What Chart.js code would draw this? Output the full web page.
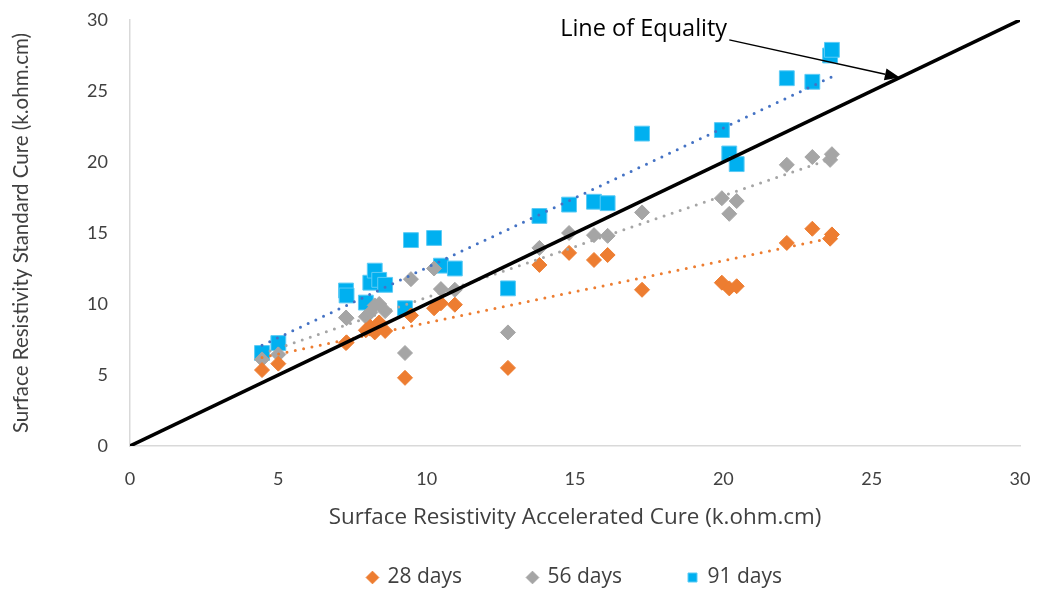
<!DOCTYPE html>
<html>
<head>
<meta charset="utf-8">
<script src="https://cdn.jsdelivr.net/npm/chart.js@4.4.1/dist/chart.umd.min.js"></script>
<style>
  html, body { margin: 0; padding: 0; background: #fff; }
</style>
</head>
<body>
<canvas id="chart" width="1038" height="592"></canvas>
<script>
// accelerated cure readings, same specimens for every age
const accelCure = [4.45, 5.0, 7.28, 7.3, 7.95, 8.1, 8.25, 8.4, 8.6, 9.27, 9.47, 10.25, 10.48, 10.95,
  12.74, 13.8, 14.8, 15.64, 16.1, 17.26, 19.95, 20.2, 20.45, 22.14, 23.0, 23.6, 23.66];

// standard cure readings
const std28 = [5.35, 5.8, 7.25, 7.3, 8.15, 8.4, 8.0, 8.7, 8.1, 4.8, 9.2, 9.7, 10.05, 9.95,
  5.5, 12.75, 13.6, 13.1, 13.45, 11.0, 11.5, 11.1, 11.25, 14.3, 15.3, 14.6, 14.9];
const std56 = [6.1, 6.45, 9.05, 9.0, 9.1, 9.4, 9.9, 10.0, 9.5, 6.55, 11.75, 12.5, 11.05, 11.0,
  8.0, 13.95, 15.0, 14.85, 14.8, 16.45, 17.45, 16.35, 17.25, 19.8, 20.35, 20.15, 20.55];
const std91 = [6.55, 7.25, 10.95, 10.6, 10.1, 11.5, 12.35, 11.7, 11.35, 9.7, 14.5, 14.65, 12.7, 12.5,
  11.1, 16.2, 17.0, 17.2, 17.1, 22.0, 22.25, 20.6, 19.85, 25.9, 25.65, 27.5, 27.9];

const seriesNames = ["28 days", "56 days", "91 days"];
const axisMin = 0, axisMax = 30, axisStep = 5;

// annotation anchors (data units)
const noteText = "Line of Equality";
const notePos = { x: 14.5, y: 29.35 };
const arrowFrom = { x: 20.2, y: 28.6 };
const arrowTo = { x: 25.95, y: 25.95 };

const FONT = "'Open Sans'";
const TICK_FONT = "Lato";
const TEXT = "#404040";

function pts(ys) {
  return accelCure.map((x, i) => ({ x: x, y: ys[i] }));
}

// least squares trendline over the x range of the data (like Excel's)
function trend(ys) {
  const n = accelCure.length;
  let sx = 0, sy = 0, sxy = 0, sxx = 0;
  accelCure.forEach((x, i) => { sx += x; sy += ys[i]; sxy += x * ys[i]; sxx += x * x; });
  const b = (n * sxy - sx * sy) / (n * sxx - sx * sx);
  const a = (sy - b * sx) / n;
  const lo = Math.min(...accelCure), hi = Math.max(...accelCure);
  return [{ x: lo, y: a + b * lo }, { x: hi, y: a + b * hi }];
}

function trendSet(ys, color) {
  return {
    type: "line",
    data: trend(ys),
    borderColor: color,
    borderWidth: 3,
    borderDash: [0, 8.5],
    borderCapStyle: "round",
    pointRadius: 0,
    fill: false,
    order: 2,
    isTrend: true
  };
}

const equalityNote = {
  id: "equalityNote",
  afterDatasetsDraw(chart) {
    const { ctx, scales: { x, y } } = chart;
    ctx.save();
    ctx.font = "23.5px " + FONT;
    ctx.fillStyle = "#000";
    ctx.textAlign = "left";
    ctx.textBaseline = "middle";
    ctx.fillText(noteText, x.getPixelForValue(notePos.x), y.getPixelForValue(notePos.y));

    const x1 = x.getPixelForValue(arrowFrom.x), y1 = y.getPixelForValue(arrowFrom.y);
    const x2 = x.getPixelForValue(arrowTo.x), y2 = y.getPixelForValue(arrowTo.y);
    const ang = Math.atan2(y2 - y1, x2 - x1);
    const head = 15, half = 6;
    ctx.strokeStyle = "#000";
    ctx.lineWidth = 1.5;
    ctx.beginPath();
    ctx.moveTo(x1, y1);
    ctx.lineTo(x2 - head * Math.cos(ang), y2 - head * Math.sin(ang));
    ctx.stroke();
    ctx.beginPath();
    ctx.moveTo(x2, y2);
    ctx.lineTo(x2 - head * Math.cos(ang) + half * Math.sin(ang), y2 - head * Math.sin(ang) - half * Math.cos(ang));
    ctx.lineTo(x2 - head * Math.cos(ang) - half * Math.sin(ang), y2 - head * Math.sin(ang) + half * Math.cos(ang));
    ctx.closePath();
    ctx.fillStyle = "#000";
    ctx.fill();
    ctx.restore();
  }
};

// tick padding would otherwise push the plot area in from the top and right
function noEdgePadding(s) {
  s.paddingTop = 0;
  s.paddingBottom = 0;
  s.paddingLeft = 0;
  s.paddingRight = 0;
}

new Chart(document.getElementById("chart"), {
  type: "scatter",
  data: {
    datasets: [
      {
        label: seriesNames[0],
        data: pts(std28),
        pointStyle: "rectRot",
        pointRadius: 7.5,
        pointHoverRadius: 7.5,
        backgroundColor: "#ED7D31",
        borderColor: "#ED7D31",
        borderWidth: 1,
        order: 3
      },
      {
        label: seriesNames[1],
        data: pts(std56),
        pointStyle: "rectRot",
        pointRadius: 7.5,
        pointHoverRadius: 7.5,
        backgroundColor: "#A5A5A5",
        borderColor: "#A5A5A5",
        borderWidth: 1,
        order: 3
      },
      {
        label: seriesNames[2],
        data: pts(std91),
        pointStyle: "rect",
        pointRadius: 10.5,
        pointHoverRadius: 10.5,
        backgroundColor: "#00B0F0",
        borderColor: "#5CCBF5",
        borderWidth: 1,
        order: 3
      },
      trendSet(std28, "#ED7D31"),
      trendSet(std56, "#A5A5A5"),
      trendSet(std91, "#4472C4"),
      {
        type: "line",
        data: [{ x: axisMin, y: axisMin }, { x: axisMax, y: axisMax }],
        borderColor: "#000",
        borderWidth: 3.5,
        pointRadius: 0,
        fill: false,
        order: 1,
        isTrend: true
      }
    ]
  },
  options: {
    responsive: false,
    animation: false,
    layout: { padding: { top: 20, right: 18, bottom: -6, left: 0 } },
    plugins: {
      tooltip: { enabled: false },
      legend: {
        position: "bottom",
        fullSize: false,
        labels: {
          usePointStyle: true,
          boxWidth: 9,
          boxHeight: 9,
          padding: 66,
          color: TEXT,
          font: { family: FONT, size: 21 },
          filter: (item, data) => !data.datasets[item.datasetIndex].isTrend
        }
      }
    },
    scales: {
      x: {
        type: "linear",
        min: axisMin,
        max: axisMax,
        grid: { display: false, drawTicks: false },
        border: { display: true, color: "#D9D9D9", width: 1.5 },
        ticks: { stepSize: axisStep, padding: 22, color: TEXT, font: { family: TICK_FONT, size: 18 } },
        title: {
          display: true,
          text: "Surface Resistivity Accelerated Cure (k.ohm.cm)",
          color: TEXT,
          font: { family: FONT, size: 22.4 },
          padding: { top: 0, bottom: -30 }
        },
        afterFit: (s) => { s.height = 55; noEdgePadding(s); }
      },
      y: {
        type: "linear",
        min: axisMin,
        max: axisMax,
        grid: { display: false, drawTicks: false },
        border: { display: true, color: "#D9D9D9", width: 1.5 },
        ticks: { stepSize: axisStep, padding: 22, color: TEXT, font: { family: TICK_FONT, size: 18 } },
        title: {
          display: true,
          text: "Surface Resistivity Standard Cure (k.ohm.cm)",
          color: TEXT,
          font: { family: TICK_FONT, size: 20.5 },
          padding: { top: 9, bottom: 0 }
        },
        afterFit: (s) => { s.width = 130; noEdgePadding(s); }
      }
    }
  },
  plugins: [equalityNote]
});
</script>
</body>
</html>
